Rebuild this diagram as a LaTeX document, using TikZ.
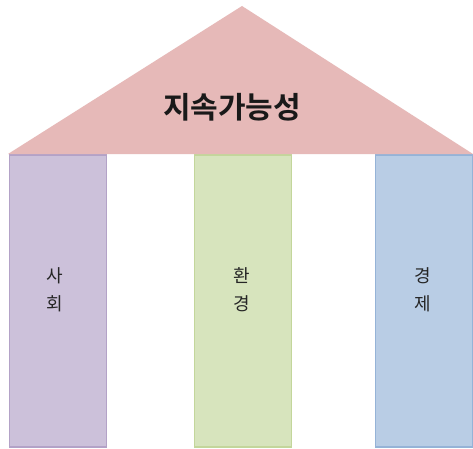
\documentclass[tikz,border=0pt]{standalone}
\usepackage{fontspec}
\newfontfamily\kr{Noto Sans CJK KR}
\newfontfamily\krb{Noto Sans CJK KR Bold}
\definecolor{roof}{HTML}{E6B9B8}
\definecolor{purf}{HTML}{CCC1DA}
\definecolor{purd}{HTML}{B3A2C7}
\definecolor{grnf}{HTML}{D7E4BD}
\definecolor{grnd}{HTML}{C3D69B}
\definecolor{bluf}{HTML}{B9CDE5}
\definecolor{blud}{HTML}{95B3D7}
\tikzset{
  pillar/.style={line width=1.5pt, minimum width=97pt, minimum height=292pt, inner sep=0pt},
  plabel/.style={font=\kr\fontsize{18}{28}\selectfont, align=center, text=black!85}
}
\begin{document}
\begin{tikzpicture}[x=1pt,y=1pt]
\useasboundingbox (0,0) rectangle (473,448);
\fill[white] (0,0) rectangle (473,448);
\node[pillar, draw=purd, fill=purf] (soc) at (58,147) {};
\node[pillar, draw=grnd, fill=grnf] (env) at (243,147) {};
\node[pillar, draw=blud, fill=bluf] (eco) at (424,147) {};
\fill[roof] (8,294) coordinate (rl) -- (242,442) coordinate (apex) -- (473,294) coordinate (rr) -- cycle;
\node[font=\krb\fontsize{30}{34}\selectfont, text=black!90] (title) at (232,341) {지속가능성};
\node[plabel] (l1) at (55,158) {사\\회};
\node[plabel] (l2) at (242,158) {환\\경};
\node[plabel] (l3) at (423,158) {경\\제};
\end{tikzpicture}
\end{document}
